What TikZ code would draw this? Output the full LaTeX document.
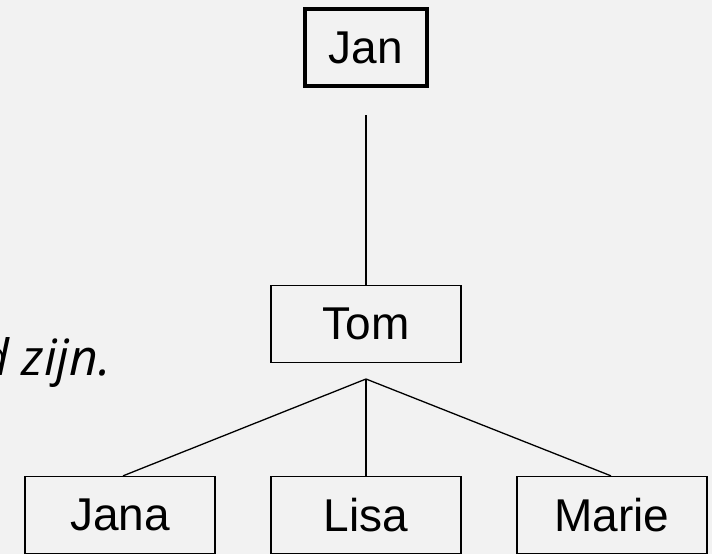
\documentclass[tikz,border=0pt]{standalone}
\usepackage{fontspec}
\setmainfont{Liberation Sans}
\newfontfamily\itfont{Open Sans}
\definecolor{bg}{HTML}{F2F2F2}
\begin{document}
\begin{tikzpicture}[x=1pt,y=1pt,
  person/.style={draw=black, line width=1.3pt, minimum width=190pt, minimum height=77pt, inner sep=0pt, font=\fontsize{46}{50}\selectfont},
  root/.style={draw=black, line width=4pt, minimum width=122pt, minimum height=77pt, inner sep=0pt, font=\fontsize{46}{50}\selectfont},
  link/.style={draw=black, line width=1.3pt}]
\fill[bg] (0,0) rectangle (712,-554);
\useasboundingbox (0,0) rectangle (712,-554);
\begin{scope}
\clip (0,0) rectangle (712,-554);
\node[root] (jan) at (366,-47.5) {Jan};
\node[person] (tom) at (366,-324) {Tom};
\node[person] (jana) at (120,-515) {Jana};
\node[person] (lisa) at (366,-515) {Lisa};
\node[person] (marie) at (612,-515) {Marie};
\coordinate (jtop) at (366,-115);
\coordinate (apex) at (366,-379);
\draw[link] (jtop) -- (tom.north);
\draw[link] (apex) -- ([xshift=3pt]jana.north);
\draw[link] (apex) -- (lisa.north);
\draw[link] (apex) -- ([xshift=-1pt]marie.north);
\node[anchor=base east, inner sep=0pt, font=\itfont\itshape\fontsize{50}{54}\selectfont] (txt) at (111,-375) {d zijn.};
\end{scope}
\end{tikzpicture}
\end{document}
